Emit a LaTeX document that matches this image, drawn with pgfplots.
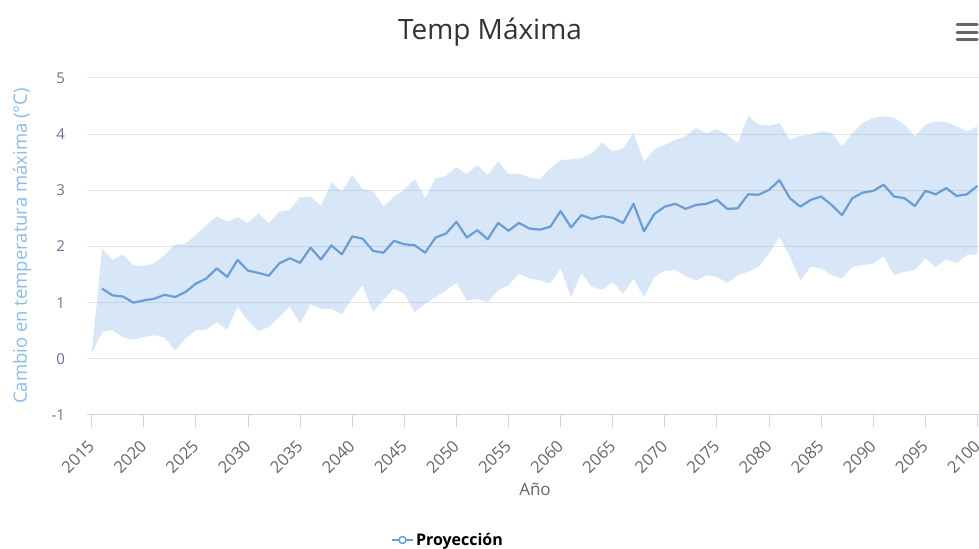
\documentclass[border=0pt]{standalone}
\usepackage{fontspec}
\setmainfont{Open Sans}
\usepackage{pgfplots}
\pgfplotsset{compat=1.18}
\usepgfplotslibrary{fillbetween}
\definecolor{serie}{HTML}{6B9DD4}
\definecolor{bandc}{HTML}{6FA8E2}
\definecolor{gridc}{HTML}{E6E6E6}
\definecolor{axisc}{HTML}{CCD6EB}
\definecolor{ticklab}{HTML}{666666}
\definecolor{ylab}{HTML}{70708E}
\definecolor{ttl}{HTML}{8CBCE8}

% band: year, lower, upper
\pgfplotstableread{
year lo hi
2015 0.09 0.09
2016 0.48 1.96
2017 0.51 1.76
2018 0.38 1.86
2019 0.34 1.67
2020 0.39 1.65
2021 0.42 1.70
2022 0.38 1.85
2023 0.15 2.04
2024 0.36 2.05
2025 0.51 2.20
2026 0.52 2.38
2027 0.65 2.53
2028 0.52 2.44
2029 0.93 2.52
2030 0.68 2.42
2031 0.49 2.59
2032 0.57 2.41
2033 0.74 2.62
2034 0.93 2.65
2035 0.63 2.88
2036 0.97 2.89
2037 0.89 2.72
2038 0.89 3.14
2039 0.80 2.98
2040 1.07 3.27
2041 1.31 3.02
2042 0.83 2.99
2043 1.05 2.71
2044 1.25 2.89
2045 1.16 3.01
2046 0.83 3.20
2047 0.98 2.86
2048 1.10 3.21
2049 1.22 3.26
2050 1.35 3.41
2051 1.04 3.29
2052 1.07 3.45
2053 1.01 3.27
2054 1.22 3.51
2055 1.31 3.29
2056 1.52 3.30
2057 1.43 3.23
2058 1.40 3.20
2059 1.34 3.39
2060 1.61 3.54
2061 1.10 3.55
2062 1.53 3.57
2063 1.28 3.66
2064 1.23 3.85
2065 1.37 3.69
2066 1.16 3.75
2067 1.43 4.02
2068 1.10 3.51
2069 1.46 3.73
2070 1.57 3.81
2071 1.58 3.90
2072 1.47 3.96
2073 1.40 4.11
2074 1.49 4.02
2075 1.46 4.09
2076 1.35 3.99
2077 1.49 3.84
2078 1.55 4.32
2079 1.64 4.17
2080 1.88 4.15
2081 2.17 4.20
2082 1.82 3.90
2083 1.40 3.97
2084 1.64 3.99
2085 1.61 4.05
2086 1.49 4.02
2087 1.43 3.78
2088 1.64 4.02
2089 1.67 4.20
2090 1.70 4.29
2091 1.82 4.32
2092 1.49 4.29
2093 1.55 4.17
2094 1.58 3.96
2095 1.79 4.17
2096 1.64 4.23
2097 1.77 4.21
2098 1.70 4.14
2099 1.85 4.05
2100 1.86 4.14
}\banddata

% projection line
\pgfplotstableread{
year val
2016 1.25
2017 1.13
2018 1.11
2019 1.00
2020 1.04
2021 1.07
2022 1.14
2023 1.10
2024 1.19
2025 1.34
2026 1.43
2027 1.61
2028 1.46
2029 1.76
2030 1.57
2031 1.53
2032 1.48
2033 1.70
2034 1.79
2035 1.71
2036 1.98
2037 1.77
2038 2.02
2039 1.86
2040 2.18
2041 2.14
2042 1.92
2043 1.89
2044 2.10
2045 2.04
2046 2.02
2047 1.89
2048 2.16
2049 2.23
2050 2.44
2051 2.16
2052 2.29
2053 2.13
2054 2.42
2055 2.28
2056 2.42
2057 2.32
2058 2.30
2059 2.35
2060 2.63
2061 2.34
2062 2.56
2063 2.49
2064 2.54
2065 2.51
2066 2.42
2067 2.76
2068 2.27
2069 2.58
2070 2.71
2071 2.76
2072 2.67
2073 2.74
2074 2.76
2075 2.83
2076 2.67
2077 2.68
2078 2.93
2079 2.92
2080 3.01
2081 3.18
2082 2.86
2083 2.71
2084 2.83
2085 2.89
2086 2.74
2087 2.56
2088 2.86
2089 2.96
2090 2.99
2091 3.10
2092 2.89
2093 2.86
2094 2.72
2095 2.99
2096 2.93
2097 3.04
2098 2.90
2099 2.93
2100 3.08
}\linedata

\begin{document}
\begin{tikzpicture}
\begin{axis}[at={(86.5bp,134bp)},anchor=south west,scale only axis,
 width=892.5bp,height=337bp,
 xmin=2014.5,xmax=2100.15,ymin=-1,ymax=5,
 xtick={2015,2020,...,2100},ytick={-1,0,...,5},
 axis x line*=bottom,axis y line*=left,
 x axis line style={axisc,line width=1bp},
 y axis line style={draw=none},
 xtick align=outside,major tick length=12bp,
 xtick style={axisc,line width=1bp},ytick style={draw=none},
 ymajorgrids,grid style={gridc,line width=1bp},
 /pgf/number format/assume math mode=true,
 /pgf/number format/1000 sep={},
 xticklabel style={font=\fontsize{16.5bp}{18bp}\selectfont,text=ticklab,
  xshift=2bp,yshift=-14bp,rotate=45,anchor=east},
 yticklabel style={font=\fontsize{15bp}{18bp}\selectfont,text=ylab,xshift=-18bp},
 legend style={at={(0.405,-0.371)},anchor=center,draw=none,fill=none,
  font=\fontsize{16bp}{18bp}\selectfont\bfseries},
 legend image code/.code={
  \draw[serie,line width=2bp] (0bp,0bp) -- (21bp,0bp);
  \draw[serie,line width=1.5bp,fill=white] (10.5bp,0bp) circle (3.5bp);}]
\addplot[name path=hi,draw=none,forget plot] table[x=year,y=hi] {\banddata};
\addplot[name path=lo,draw=none,forget plot] table[x=year,y=lo] {\banddata};
\addplot[bandc,fill opacity=0.28,draw=none,forget plot] fill between[of=hi and lo];
\addplot[serie,line width=2.2bp,line join=round] table[x=year,y=val] {\linedata};
\addlegendentry{Proyección}
\end{axis}
\node[font=\fontsize{28bp}{32bp}\selectfont,text=black!80] at (490bp,517bp) {Temp Máxima};
\node[font=\fontsize{17bp}{20bp}\selectfont,text=ticklab] at (535bp,60bp) {Año};
\node[font=\fontsize{18.5bp}{22bp}\selectfont,text=ttl,rotate=90] at (22bp,303bp) {Cambio en temperatura máxima (°C)};
\foreach \yy in {524,516.5,509}
 \draw[line width=3bp,ticklab,line cap=round] (957bp,\yy bp) -- (977bp,\yy bp);
\pgfresetboundingbox
\useasboundingbox (0,0) rectangle (979bp,549bp);
\end{tikzpicture}
\end{document}
